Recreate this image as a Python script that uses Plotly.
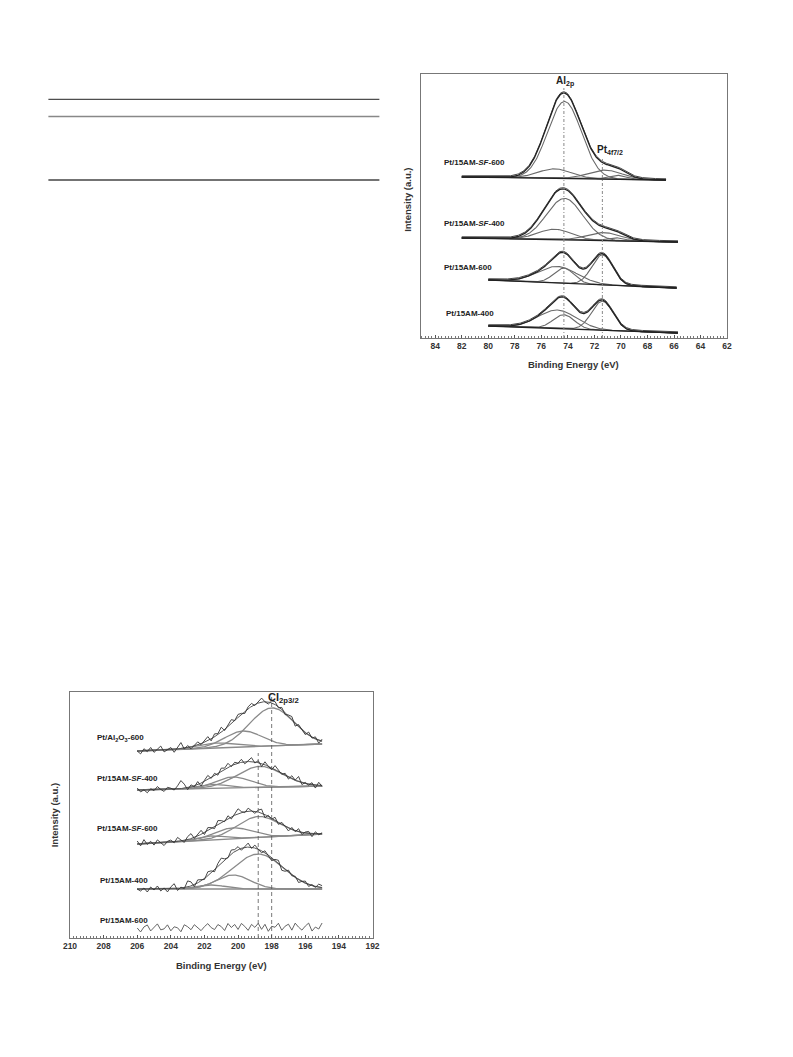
import numpy as np
import plotly.graph_objects as go

# ================= DATA =================
# ---- Al 2p / Pt 4f panel (intensity in arbitrary units) ----
al_samples = ["Pt/15AM-<i>SF</i>-600", "Pt/15AM-<i>SF</i>-400", "Pt/15AM-600", "Pt/15AM-400"]
al_start = [82.0, 82.0, 80.0, 80.0]          # eV, high-BE end of scan
al_end = [66.6, 65.7, 65.8, 65.7]            # eV, low-BE end of scan
al_bg_left = [161, 100, 58, 12]
al_bg_right = [158, 96, 50, 5]
al_centers = [[74.25, 75.0, 71.2, 70.3], [74.25, 75.0, 71.3, 70.4], [74.8, 74.3, 71.4], [74.8, 74.3, 71.4]]
al_heights = [[77, 9.5, 9, 4], [41.5, 10.5, 8, 3], [16.5, 15, 30], [18.5, 14, 29]]
al_fwhm = [[3.0, 3.0, 3.0, 1.6], [3.2, 3.0, 3.0, 1.6], [3.5, 1.8, 1.85], [3.4, 1.9, 1.9]]
al_ref_energy = [74.3, 71.4]                  # Al2p and Pt4f7/2 reference lines
al_ref_top = [250, 180]

# ---- Cl 2p3/2 panel ----
cl_samples = ["Pt/Al<sub>2</sub>O<sub>3</sub>-600", "Pt/15AM-<i>SF</i>-400", "Pt/15AM-<i>SF</i>-600",
              "Pt/15AM-400", "Pt/15AM-600"]
cl_start, cl_end = 206.0, 195.0
cl_bg_left = [187, 148, 94, 49, 10]
cl_bg_right = [194, 152, 104, 49, 11]
cl_centers = [[198.0, 199.7, 201.3], [198.7, 200.3, 201.5], [198.8, 200.3, 201.6], [198.8, 200.3, 201.6], []]
cl_heights = [[38, 16, 5], [21, 11, 4], [21, 11, 4], [35, 14, 4], []]
cl_fwhm = [[3.1, 2.6, 2.5], [3.2, 2.4, 2.0], [3.0, 2.6, 2.0], [3.5, 2.4, 2.0], []]
cl_residuals = [
    [0, -3, 2, -1, 3, -2, 1, 4, -2, 0, 2, -3, 1, 6, -1, 2, -2, 1, 3, -1, 2, 4, -2, 3, 1, 5, -1, 2, 4, 0,
     3, 1, -2, 2, 3, -1, 1, 4, 0, -2, 2, 3, -1, 2, -2, 1, 3, -3, 2, 0, -2, 3, -1, 2, -3, 2],
    [2, -2, 0, -3, 1, -1, 3, 0, -2, 2, 1, -1, 3, 8, 4, -2, 2, -1, 3, -3, 1, 4, -1, 2, -2, 3, 1, 4, -1, 2,
     0, 3, -2, 1, 4, -1, 2, -3, 3, 0, -2, 4, 1, -1, 2, -2, 3, 0, 5, -2, 1, -1, 2, -3, 3, -1],
    [3, -2, 4, -1, 2, -2, 3, 0, -3, 1, 2, -1, 4, 1, -2, 3, 5, -1, 2, 4, -2, 3, 1, -2, 4, 2, -1, 3, -2, 2,
     5, 1, -1, 3, 0, -2, 2, 4, -3, 1, -1, 3, -2, 2, 0, -3, 2, -1, 3, -2, 1, 2, -3, 2, -1, 1],
    [0, -2, 1, -3, 2, -1, 3, -2, 1, -3, 2, 5, -2, 1, -1, 6, 4, -2, 3, 1, -1, 4, 2, -2, 3, 5, 1, -1, 4, 2,
     3, -2, 1, 4, -1, 3, 0, -2, 2, -1, -3, 1, 3, -4, -2, 2, -1, 1, -3, 0, 2, -2, 1, -1, 3, 2],
    [0, -4, 1, 3, -3, 0, 4, -2, -1, 3, -3, 1, 0, -4, 3, 1, -2, 3, 0, -3, 1, 4, 0, -2, 3, 1, -3, 4, 0, 3,
     -2, 4, 1, -3, 3, 0, 4, -2, 3, -4, 1, 0, 4, -3, 1, 3, -3, 4, 0, -3, 1, 4, -4, 0, -2, 4],
]
cl_ref_energy = [198.8, 198.0]
cl_ref_top = [185, 241]

# ================= HELPERS =================
LN = 4 * np.log(2)


def peak(x, c, h, w):
    return h * np.exp(-LN * ((x - c) / w) ** 2)


def background(x, x0, x1, b0, b1):
    return b1 + (b0 - b1) * (x - x1) / (x0 - x1)


FONT = "Liberation Sans"
fig = go.Figure()

# ---------------- Al panel traces ----------------
for i in range(len(al_samples)):
    x = np.linspace(al_start[i], al_end[i], 300)
    bg = background(x, al_start[i], al_end[i], al_bg_left[i], al_bg_right[i])
    total = bg.copy()
    for c, h, w in zip(al_centers[i], al_heights[i], al_fwhm[i]):
        comp = peak(x, c, h, w)
        total = total + comp
        fig.add_trace(go.Scatter(x=x, y=bg + comp, mode="lines", xaxis="x", yaxis="y",
                                 line=dict(color="#6a6a6a", width=1.1), hoverinfo="skip"))
    fig.add_trace(go.Scatter(x=x, y=bg, mode="lines", xaxis="x", yaxis="y",
                             line=dict(color="#222", width=1.3), hoverinfo="skip"))
    fig.add_trace(go.Scatter(x=x, y=total + 1.2, mode="lines", xaxis="x", yaxis="y",
                             line=dict(color="#444", width=1.0), hoverinfo="skip"))
    fig.add_trace(go.Scatter(x=x, y=total, mode="lines", xaxis="x", yaxis="y",
                             line=dict(color="#222", width=1.3), hoverinfo="skip"))

for e, top in zip(al_ref_energy, al_ref_top):
    fig.add_trace(go.Scatter(x=[e, e], y=[0, top], mode="lines", xaxis="x", yaxis="y",
                             line=dict(color="#888", width=1, dash="3px,2px,1px,2px"),
                             hoverinfo="skip"))

# ---------------- Cl panel traces ----------------
for i in range(len(cl_samples)):
    xf = np.linspace(cl_start, cl_end, 300)
    bgf = background(xf, cl_start, cl_end, cl_bg_left[i], cl_bg_right[i])
    totf = bgf.copy()
    for c, h, w in zip(cl_centers[i], cl_heights[i], cl_fwhm[i]):
        comp = peak(xf, c, h, w)
        totf = totf + comp
        fig.add_trace(go.Scatter(x=xf, y=bgf + comp, mode="lines", xaxis="x2", yaxis="y2",
                                 line=dict(color="#8a8a8a", width=1.3), hoverinfo="skip"))
    if cl_centers[i]:
        fig.add_trace(go.Scatter(x=xf, y=bgf, mode="lines", xaxis="x2", yaxis="y2",
                                 line=dict(color="#8a8a8a", width=1.3), hoverinfo="skip"))
        fig.add_trace(go.Scatter(x=xf, y=totf, mode="lines", xaxis="x2", yaxis="y2",
                                 line=dict(color="#555", width=1.0), hoverinfo="skip"))
    res = np.array(cl_residuals[i], dtype=float)
    xd = np.linspace(cl_start, cl_end, len(res))
    model = background(xd, cl_start, cl_end, cl_bg_left[i], cl_bg_right[i])
    for c, h, w in zip(cl_centers[i], cl_heights[i], cl_fwhm[i]):
        model = model + peak(xd, c, h, w)
    fig.add_trace(go.Scatter(x=xd, y=model + res, mode="lines", xaxis="x2", yaxis="y2",
                             line=dict(color="#333" if cl_centers[i] else "#555", width=0.9),
                             hoverinfo="skip"))

for e, top in zip(cl_ref_energy, cl_ref_top):
    fig.add_trace(go.Scatter(x=[e, e], y=[0, top], mode="lines", xaxis="x2", yaxis="y2",
                             line=dict(color="#555", width=0.8, dash="4px,3px"), hoverinfo="skip"))

# ================= LAYOUT =================
# page body has an 8 px margin; the figure is placed inside it
OFF = 8
W, H = 793 - OFF, 1057 - OFF


def px(v):
    return (v - OFF) / W


def py(v):
    return 1 - (v - OFF) / H


tickfont = dict(family=FONT, size=8.5, color="#333", weight="bold")
axis_common = dict(showline=True, linecolor="#777", linewidth=1, mirror=True, showgrid=False,
                   zeroline=False)

fig.update_layout(
    width=W, height=H, margin=dict(l=0, r=0, t=0, b=0),
    paper_bgcolor="white", plot_bgcolor="white", showlegend=False,
    xaxis=dict(domain=[px(421), px(733)], range=[85.1, 62], anchor="y", dtick=2, ticks="inside",
               ticklen=3, tickcolor="#555", tickfont=tickfont,
               minor=dict(dtick=0.25, ticks="inside", ticklen=2, tickcolor="#777"), **axis_common),
    yaxis=dict(domain=[py(338), py(74)], range=[0, 264], anchor="x", showticklabels=False,
               ticks="", **axis_common),
    xaxis2=dict(domain=[px(64), px(372)], range=[210, 192], anchor="y2", dtick=2, ticks="inside",
                ticklen=3, tickcolor="#555", tickfont=tickfont,
                minor=dict(dtick=0.2, ticks="inside", ticklen=2, tickcolor="#777"), **axis_common),
    yaxis2=dict(domain=[py(938), py(692)], range=[0, 246], anchor="x2", showticklabels=False,
                ticks="", **axis_common),
)

ann = []
lab_font = dict(family=FONT, size=8, color="#222")
# Al panel sample labels
al_lab_pos = [(83.5, 175), (83.5, 114), (83.5, 70), (83.35, 24)]
for name, (lx, ly) in zip(al_samples, al_lab_pos):
    ann.append(dict(x=lx, y=ly, xref="x", yref="y", text="<b>" + name + "</b>", showarrow=False,
                    xanchor="left", yanchor="middle", font=lab_font))
ann.append(dict(x=74.25, y=256, xref="x", yref="y", text="<b>Al<sub>2p</sub></b>", showarrow=False,
                xanchor="center", yanchor="middle", font=dict(family=FONT, size=10, color="#222")))
ann.append(dict(x=70.8, y=188, xref="x", yref="y", text="<b>Pt<sub>4f7/2</sub></b>", showarrow=False,
                xanchor="center", yanchor="middle", font=dict(family=FONT, size=10, color="#222")))
# Cl panel sample labels
cl_lab_pos = [(208.5, 200), (208.5, 160), (208.5, 110), (208.35, 58), (208.35, 18)]
for name, (lx, ly) in zip(cl_samples, cl_lab_pos):
    ann.append(dict(x=lx, y=ly, xref="x2", yref="y2", text="<b>" + name + "</b>", showarrow=False,
                    xanchor="left", yanchor="middle", font=lab_font))
ann.append(dict(x=197.3, y=240, xref="x2", yref="y2", text="<b>Cl<sub>2p3/2</sub></b>",
                showarrow=False, xanchor="center", yanchor="middle",
                font=dict(family=FONT, size=11, color="#222")))
# Axis titles
title_font = dict(family=FONT, size=9.5, color="#333")
ann.append(dict(x=px(577), y=py(365), xref="paper", yref="paper", text="<b>Binding Energy (eV)</b>",
                showarrow=False, xanchor="center", yanchor="middle", font=title_font))
ann.append(dict(x=px(408), y=py(200), xref="paper", yref="paper", text="<b>Intensity (a.u.)</b>",
                showarrow=False, xanchor="center", yanchor="middle", textangle=-90, font=title_font))
ann.append(dict(x=px(218), y=py(965), xref="paper", yref="paper", text="<b>Binding Energy (eV)</b>",
                showarrow=False, xanchor="center", yanchor="middle", font=title_font))
ann.append(dict(x=px(48), y=py(815), xref="paper", yref="paper", text="<b>Intensity (a.u.)</b>",
                showarrow=False, xanchor="center", yanchor="middle", textangle=-90, font=title_font))
fig.update_layout(annotations=ann)

# Table rules (top-left)
shapes = [
    dict(type="line", xref="paper", yref="paper", x0=px(42), x1=px(379), y0=py(99.3), y1=py(99.3),
         line=dict(color="#222", width=1)),
    dict(type="line", xref="paper", yref="paper", x0=px(42), x1=px(379), y0=py(116.5), y1=py(116.5),
         line=dict(color="#888", width=1.6)),
    dict(type="line", xref="paper", yref="paper", x0=px(42), x1=px(379), y0=py(180), y1=py(180),
         line=dict(color="#444", width=1.4)),
]
fig.update_layout(shapes=shapes)

fig.write_html("out.html")
